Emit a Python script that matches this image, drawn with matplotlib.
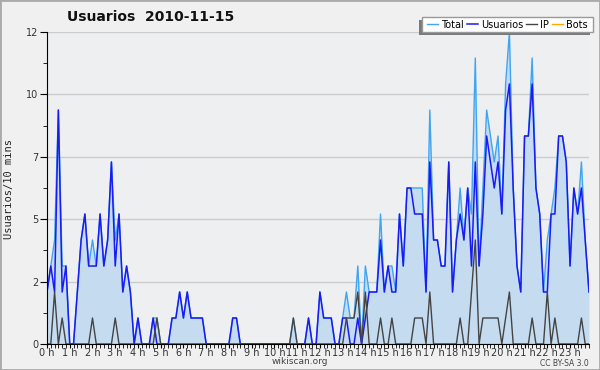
import matplotlib.pyplot as plt
import matplotlib.patches as mpatches
import numpy as np

# 10-minute counts for 2010-11-15 (144 slots)
usuarios = [2, 3, 2, 9, 2, 3, 0, 0, 2, 4, 5, 3,
            3, 3, 5, 3, 4, 7, 3, 5, 2, 3, 2, 0,
            1, 0, 0, 0, 1, 0, 0, 0, 0, 1, 1, 2,
            1, 2, 1, 1, 1, 1, 0, 0, 0, 0, 0, 0,
            0, 1, 1, 0, 0, 0, 0, 0, 0, 0, 0, 0,
            0, 0, 0, 0, 0, 0, 0, 0, 0, 1, 0, 0,
            2, 1, 1, 1, 0, 0, 1, 1, 0, 0, 1, 0,
            1, 2, 2, 2, 4, 2, 3, 2, 2, 5, 3, 6,
            6, 5, 5, 5, 2, 7, 4, 4, 3, 3, 7, 2,
            4, 5, 4, 6, 3, 7, 3, 5, 8, 7, 6, 7,
            5, 9, 10, 6, 3, 2, 8, 8, 10, 6, 5, 2,
            2, 5, 5, 8, 8, 7, 3, 6, 5, 6, 4, 2]
ip = [0, 0, 2, 0, 1, 0, 0, 0, 0, 0, 0, 0,
      1, 0, 0, 0, 0, 0, 1, 0, 0, 0, 0, 0,
      0, 0, 0, 0, 0, 1, 0, 0, 0, 0, 0, 0,
      0, 0, 0, 0, 0, 0, 0, 0, 0, 0, 0, 0,
      0, 0, 0, 0, 0, 0, 0, 0, 0, 0, 0, 0,
      0, 0, 0, 0, 0, 1, 0, 0, 0, 0, 0, 0,
      0, 0, 0, 0, 0, 0, 0, 1, 1, 1, 2, 0,
      2, 0, 0, 0, 1, 0, 0, 1, 0, 0, 0, 0,
      0, 1, 1, 1, 0, 2, 0, 0, 0, 0, 0, 0,
      0, 1, 0, 0, 2, 4, 0, 1, 1, 1, 1, 1,
      0, 1, 2, 0, 0, 0, 0, 0, 1, 0, 0, 0,
      2, 0, 1, 0, 0, 0, 0, 0, 0, 1, 0, 0]
total = [2, 3, 4, 9, 3, 3, 0, 0, 2, 4, 5, 3,
         4, 3, 5, 3, 4, 7, 4, 5, 2, 3, 2, 0,
         1, 0, 0, 0, 1, 1, 0, 0, 0, 1, 1, 2,
         1, 2, 1, 1, 1, 1, 0, 0, 0, 0, 0, 0,
         0, 1, 1, 0, 0, 0, 0, 0, 0, 0, 0, 0,
         0, 0, 0, 0, 0, 1, 0, 0, 0, 1, 0, 0,
         2, 1, 1, 1, 0, 0, 1, 2, 1, 1, 3, 0,
         3, 2, 2, 2, 5, 2, 3, 3, 2, 5, 3, 6,
         6, 6, 6, 6, 2, 9, 4, 4, 3, 3, 7, 2,
         4, 6, 4, 6, 5, 11, 3, 6, 9, 8, 7, 8,
         5, 10, 12, 6, 3, 2, 8, 8, 11, 6, 5, 2,
         4, 5, 6, 8, 8, 7, 3, 6, 5, 7, 4, 2]
bots = [0] * 144
hours = list(range(24))
hour_labels = ['%d h' % h for h in hours]
ytick_vals = [0, 2.4, 4.8, 7.2, 9.6, 12]
ytick_labels = ['0', '2', '5', '7', '10', '12']

x = np.arange(len(total)) / 6.0

fig = plt.figure(figsize=(6, 3.7), dpi=100, facecolor='#f0f0f0')
ax = fig.add_axes([47/600, 26/370, 542/600, 312/370])
ax.set_facecolor('#eeeff1')

ax.fill_between(x, total, 0, color='#c5dcf0', lw=0, zorder=1)
ax.plot(x, bots, color='#ffa500', lw=1, label='Bots', zorder=1.5)
ax.plot(x, total, color='#3fa4f2', lw=1, label='Total', zorder=2)
ax.plot(x, usuarios, color='#1a1af5', lw=1.1, label='Usuarios', zorder=3)
ax.plot(x, ip, color='#444444', lw=1, label='IP', zorder=4)

ax.set_xlim(0, x[-1])
ax.set_ylim(0, 12)
ax.set_xticks(hours)
ax.set_xticklabels(hour_labels)
ax.set_xticks(np.arange(0, x[-1] + 0.01, 1/6.0), minor=True)
ax.set_yticks(ytick_vals)
ax.set_yticklabels(ytick_labels)
ax.set_yticks(np.arange(1.2, 12, 2.4), minor=True)
ax.tick_params(axis='both', labelsize=7, colors='#333333', direction='out')
ax.tick_params(axis='x', which='major', length=3, pad=0)
ax.tick_params(axis='x', which='minor', length=3)
ax.tick_params(axis='y', which='major', length=5, pad=1)
ax.tick_params(axis='y', which='minor', length=3)
ax.tick_params(axis='both', which='both', color='black')
ax.yaxis.grid(True, color='#cccccc', lw=1)
ax.set_axisbelow(True)
for s in ['top', 'right']:
    ax.spines[s].set_visible(False)
for s in ['left', 'bottom']:
    ax.spines[s].set_color('black')
    ax.spines[s].set_zorder(5)

fig.text(9/600, 1 - 189/370, 'Usuarios/10 mins', rotation=90, ha='center', va='center',
         family='DejaVu Sans Mono', fontsize=7.5, color='#222222')
fig.text(151/600, 1 - 17/370, 'Usuarios  2010-11-15', ha='center', va='center',
         fontsize=10, fontweight='bold', color='#111111')
fig.text(300/600, 1 - 362/370, 'wikiscan.org', ha='center', va='center',
         fontsize=6.5, color='#444444')
fig.text(589/600, 1 - 363/370, 'CC BY-SA 3.0', ha='right', va='center',
         fontsize=5.5, color='#444444')

# legend box with shadow offset to the lower left
bx0, bx1, by0, by1 = 422, 593, 17, 32
fig.patches.append(mpatches.Rectangle((bx0/600 - 3/600, 1 - by1/370 - 3/370),
                                      (bx1 - bx0)/600, (by1 - by0)/370,
                                      transform=fig.transFigure, facecolor='#7a7a7a',
                                      edgecolor='none', zorder=8))
fig.patches.append(mpatches.Rectangle((bx0/600, 1 - by1/370),
                                      (bx1 - bx0)/600, (by1 - by0)/370,
                                      transform=fig.transFigure, facecolor='white',
                                      edgecolor='#999999', lw=1, zorder=9))

handles, labels = ax.get_legend_handles_labels()
order = [1, 2, 3, 0]
leg = fig.legend([handles[i] for i in order], [labels[i] for i in order],
                 loc='center', bbox_to_anchor=((bx0 + bx1) / 2 / 600, 1 - (by0 + by1) / 2 / 370),
                 ncol=4, fontsize=7, frameon=False, handlelength=1.1, handletextpad=0.35,
                 columnspacing=0.3, borderpad=0, borderaxespad=0)
leg.set_zorder(10)

border = mpatches.Rectangle((0, 0), 1, 1, transform=fig.transFigure, fill=False,
                            edgecolor='#aaaaaa', lw=2)
fig.patches.append(border)

fig.savefig('out.png', dpi=100, facecolor=fig.get_facecolor())
